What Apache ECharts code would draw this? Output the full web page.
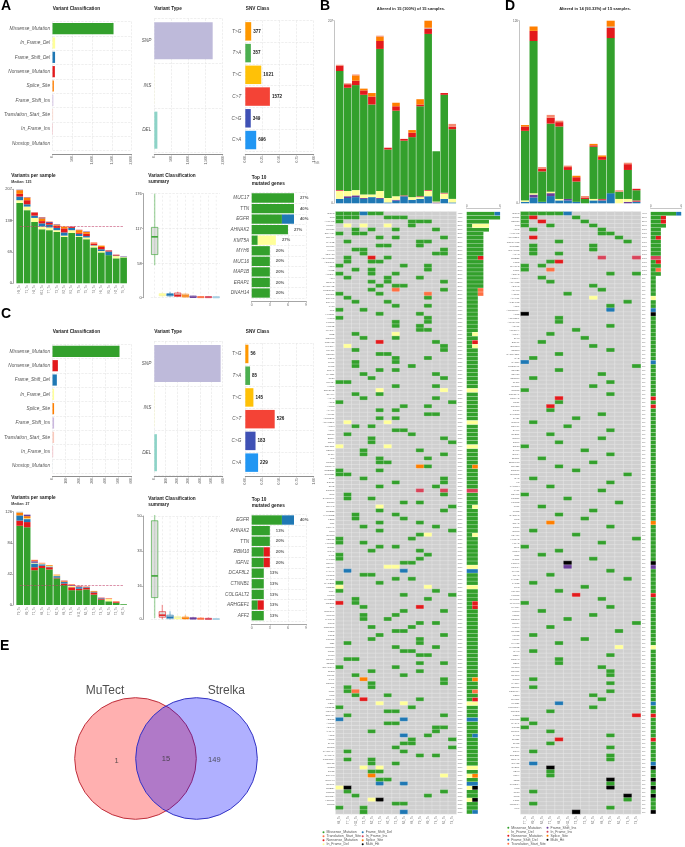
<!DOCTYPE html>
<html><head><meta charset="utf-8">
<style>html,body{margin:0;padding:0;background:#fff}#c{width:685px;height:847px;filter:blur(0.3px)}</style>
<script src="https://cdn.jsdelivr.net/npm/echarts@6/dist/echarts.min.js"></script>
</head><body><div id="c"></div>
<script>
// ---------- DATA ----------
const typeNames={g:'Missense_Mutation',y:'In_Frame_Del',b:'Frame_Shift_Del',r:'Nonsense_Mutation',o:'Splice_Site',p:'Frame_Shift_Ins',t:'Translation_Start_Site',c:'In_Frame_Ins',n:'Nonstop_Mutation',k:'Multi_Hit'};
// Panel A
const aClassNames=['Missense_Mutation','In_Frame_Del','Frame_Shift_Del','Nonsense_Mutation','Splice_Site','Frame_Shift_Ins','Translation_Start_Site','In_Frame_Ins','Nonstop_Mutation'];
const aClassKeys=['g','y','b','r','o','p','t','c','n'];
const aClassValues=[1545,67,65,60,35,20,15,12,1];
const aTypeNames=['SNP','INS','DEL'];
const aTypeValues=[1707,4,90];
const snvNames=['T>G','T>A','T>C','C>T','C>G','C>A'];
const aSnvValues=[377,357,1021,1572,349,696];
const aBoxStats=[[55,73,103,119,176],[2,3,5,7,9],[2,3,5,7,10],[1,2,4,8,10],[1,1,3,6,7],[0,0.5,1,3,3.5],[0,0,1,2,2],[0,0,1,2,2.5],[0,0,0.5,2,3]];
const aTopGenes=['MUC17','TTN','EGFR','AHNAK2','KMT5A','MYH6','MUC16','MAP1B','ERAP1','DNAH14'];
const aTopGreen=[7,7,5,6,1,3,3,3,3,3];
const aTopOther=[0,0,2,0,3,0,0,0,0,0];
const aTopOtherKey=['g','g','b','g','y','g','g','g','g','g'];
const aTopLabels=['27%','40%','40%','27%','27%','20%','20%','20%','20%','20%'];
// Panel C
const cClassNames=['Missense_Mutation','Nonsense_Mutation','Frame_Shift_Del','In_Frame_Del','Splice_Site','Frame_Shift_Ins','Translation_Start_Site','In_Frame_Ins','Nonstop_Mutation'];
const cClassKeys=['g','r','b','y','o','p','t','c','n'];
const cClassValues=[509,41,33,12,12,12,12,5,1];
const cTypeValues=[582,2,23];
const cSnvValues=[56,85,145,526,183,229];
const cBoxStats=[[0.6,10.5,21,47.7,50.5],[0,1,2,3.7,7],[0,0.3,1,2,3.9],[0,0.2,0.5,1.3,2],[0,0.2,0.5,1.1,2.2],[0,0.1,0.4,0.8,1.2],[0,0,0.3,0.6,1],[0,0,0.2,0.5,1],[0,0,0.1,0.3,0.5]];
const cTopGenes=['EGFR','AHNAK2','TTN','RBM10','IGFN1','DCAF8L2','CTNNB1','COLGALT2','ARHGEF1','AFF2'];
const cTopGreen=[5,3,3,2,2,2,2,2,1,2];
const cTopOther=[2,0,0,1,1,0,0,0,1,0];
const cTopOtherKey=['b','g','g','r','r','g','g','g','r','g'];
const cTopLabels=['40%','13%','20%','20%','20%','13%','13%','13%','13%','13%'];
// Panel B per-sample variant counts
const bSamples=['H4_Tu','T7_Tu','H11_Tu','T3_Tu','R2_Tu','T1_Tu','H2_Tu','T5_Tu','R5_Tu','H6_Tu','T9_Tu','H9_Tu','T6_Tu','R1_Tu','T4_Tu'];
const bFrameDel=[5,6,7,5,7,5,1,3,8,4,5,8,0,5,1];
const bFrameIns=[0,2,2,1,0,1,0,1,0,0,0,0,1,0,0];
const bInDel=[9,6,6,4,3,8,5,4,0,3,2,6,1,6,4];
const bInIns=[1,0,0,0,0,0,0,0,1,0,1,1,0,1,0];
const bMissense=[135,117,119,113,102,161,55,97,62,68,102,177,57,111,79];
const bNonsense=[6,4,5,5,9,9,2,5,2,5,2,6,0,2,3];
const bNonstop=[0,0,0,0,0,0,0,0,0,0,0,1,0,0,0];
const bSplice=[0,0,6,2,4,5,0,4,0,3,6,8,0,0,0];
const bTrans=[1,1,1,0,0,1,0,0,0,0,0,0,0,0,3];
// Panel D per-sample variant counts
const dSamples=['T7_Tu','H9_Tu','R5_Tu','T1_Tu','H4_Tu','H11_Tu','T3_Tu','T5_Tu','R2_Tu','H6_Tu','T9_Tu','R1_Tu','T6_Tu','T4_Tu'];
const dFrameDel=[1,4,1,5,2,2,1,0,2,2,7,0,0,1];
const dFrameIns=[0,2,0,2,0,1,0,0,0,0,0,0,1,0];
const dInDel=[1,1,0,1,1,0,0,0,1,0,0,3,2,0];
const dInIns=[0,0,0,0,0,0,0,0,0,1,0,0,0,1];
const dMissense=[48,105,21,47,50,20,14,3,36,27,107,5,20,7];
const dNonsense=[3,7,2,4,3,2,3,1,1,2,7,0,4,1];
const dNonstop=[0,0,0,0,0,0,0,0,0,0,1,0,0,0];
const dSplice=[1,3,0,0,0,0,1,0,1,1,4,0,0,0];
const dTrans=[0,0,1,2,1,1,0,1,0,0,0,1,1,0];
const cExtraSample='H2_Tu';
const cExtraMissense=1;
// Oncoplot genes
const bGenes='EGFR TTN AHNAK2 KMT5A MUC17 DNAH14 ERAP1 MAP1B MUC16 MYH6 ABCA13 ADAMTS12 ADGRV1 ANK3 APOB ARID1A ATM BRCA2 CACNA1E CCDC168 CSMD1 DNAH5 DNAH9 FAT3 FLG HMCN1 HYDIN KMT2C LRP1B MYO7A NEB OBSCN PCDH15 PIK3CA PKHD1 RBM10 RELN RYR1 RYR2 SPTA1 SYNE1 TP53 USH2A XIRP2 ZNF804B ZFHX4 ACAN AFF2 AGRN AKAP9 ALMS1 ANKRD11 ARHGEF1 ASPM ATRX BIRC6 BRD4 CDH1 CELSR1 CENPF CHD4 CIC CNOT1 COL6A3 CREBBP CTNNB1 DCC DIDO1 DMD DOCK2 DST DYNC1H1 EP300 EPHA2 ERBB2 FAM135B FBN2 FN1 FOXA1 GLI3 GPR98 HERC2 HUWE1 IGFN1 ITGA8 JAK1 KALRN KDM6A KEAP1 LAMA1 LRRK2 MACF1 MAGEC1 MED12 MGA MTOR MYCBP2 NCOR1 NF1 NOTCH1 NUP98 PAPPA2 PCLO PDE4DIP PLEC POLE PTPRD RB1 RNF213 ROS1 RYR3 SCN1A SETD2 SMARCA4 SPEN STK11 TAF1 TENM1 TG TLN1 TNC TRRAP UBR4 VPS13B WDFY3 ZNF469 ABCC2 ACTN2 ADCY8 AHNAK ANK2 ARID2 BAP1 BCOR CACNA1A CAMTA1 CCDC88A CDK12 CUBN DLG2 DNAH3 DSCAM EPPK1 ERBB4 FREM2 GRIN2A HECW1 INSRR'.split(' ');
const dGenes='EGFR IGFN1 RBM10 TTN AFF2 AHNAK2 ARHGEF1 COLGALT2 CTNNB1 DCAF8L2 ACAN ERBB2 LRP2 PLXNA2 PKD1 ABCA2 ACTL6A ADAM12 ADCY2 AGAP3 AHDC1 AKAP11 ALDH1L2 ANK1 ANKRD30A APC2 ARFGEF1 ARHGAP5 ASXL1 ATP13A4 ATP7A BAI3 BCL9L BRINP3 C2CD3 CACNA2D1 CAD CAPN9 CCDC141 CDC27 CDH10 CEP290 CHD7 CLCN6 CNTN5 COL11A1 COL4A2 CPS1 CSMD3 CTCF CYP2C8 DAB1 DCLK1 DDX3X DHX9 DLEC1 DNM3 DPP6 DSG3 DYSF EIF3A ELTD1 EPB41L3 EPHB1 ERCC6 ESRRG EYS F5 FAM83H FAT1 FBXW7 FCGBP FGFR2 FLT1 FMN2 GABRA5 GLI2 GNAS GPC6 GRM8 HDAC9 HMGA2 HRAS IDH1 IGSF3 IRS1 ITPR1 KCNH7 KIF13A KLHL1 KRAS LAMB4 LATS2 LIFR LPHN3 LRFN5 MAP3K1 MAP4K3 MAST4 MCM3 MDN1 MEGF8 MLLT4 MSH6 MTUS2 MUC2 MUC4 MYH15 MYO18B NAV3 NBEA NCOA3 NEK1 NLRP3 NRXN1 NTRK3 OTOF PARP4 PBRM1 PDGFRA PER3 PIK3R1 PLCB1 PPP2R1A PRKDC PTEN PTPN13 RASA1 RIMS2 RUNX1 SACS SF3B1 SLIT2 SMAD4 SOX9 SPTBN1 SRCAP STAG2 SVEP1 TBX3 TCF4 TET2 THSD7A TNR TP63 TRIO TSC1 UNC13A VWF'.split(' ');
const bCells=['g0 g1 g2 b3 g4 g5','g0 g1 g2 g6 g7 g8','g0 g9 g10 g11','y1 y3 y6 g9','g2 g4 g7 g12','g0 g2 g3','g5 g7 g13','g1 g10 g11','g5 g6 g10','g2 g3 g13','g3 g12 g13','g1 r4 g6','g1 g4 g5','g0 g8 g11','g2 g4 g11','g0 g4 g7','g1 g6 g10','g4 g6 g13','g5 g7 g8','g4 t7 g13','g0 g5 t11','g1 g11','g2 g6','g7 g11','g0 g3','g5 g10','g0 g11','g7 g11','g7 g10','g10 g11','g2 y7','g3 g7','r5 g12','y1 g13','g2 g13','g5 g6','g7 g11','g2 g7','g2 g9','g5 g7','g3 g12','g4 g13','g0 g1','g7 g12','y5 y13','g2 g5','g3 g12','g0 g14','g8 g11','g5 g7','g11 g12',
'g5 g7','y1 y6','g2 g4','g7 g8','g1 g9','g4 g13','g4 g14','y0 y6','g3 g10','g3 g13','g5 g11','g5 g6','o10 g11','g0 g5','g0 g1','g3 g13','g7 g13','g5 g12','c10 c13','g1 g13','g1 g4','g8 g10','y5 g14','g5 g13','g2 g7','g2 g8','g5 g10','g3 g12','g5 g14','g10 y11','g0 g9','g0 g3','g5 g7','g4 g10','g0 g11','g0 g10','g8 g9','y6 y7','b1 b8','g3 g4','g7 g9','g0 g5','y0 y11','g0 g12','g8 g14','g2 g11','r0 g2','g3 r10','g8 g13','g3 g7','g3 g6','g10 g12','g4 g9','g7 g8','g5 g13','g4 g10',
'g1 g10','g7 g12','g8 g9','g10 g11','g1 g2','g10 g13','g0 g7','g4 g10','g2 g8','o3 g13','g4 g13','g1 g4','g1 t2','g2 g6','r3 g10','y5 y8','g0 g9','g6 g7','g1 g13','b0 b8','g6 g7','g12 g13','g4 g12','b8 g11','g9 g14','g8 g9','g7 g14','g1 g8','g10 g12','g1 g4','g4 g7','y3 y5','g4 g5','o4 y13','g5 g6','b5 b8','y0 k1','g1 g13','g2 g11','y4 k5','g7 g8','g0 g3','g3 b8'];
const dCells=['g0 g1 g2 g3 g4 b5','g0 r1 g6','g0 r2 g7','g0 g3 g8','g1 g9','g9 g10','r1 g11','g4 g12','g1 g8','g1 g8','g1 g4','c9 c13','g3 r4','g0 g2','g0 t3','g10 g13','g2','g3','g8','g9','g5','y8','g12','g10','b10','k0','g4','g4','g10','g6','g3','g7','g2','g8','g10','g4','g1','b0','g13','g4','g9','g1','g10','g8','g0','g10','r4','g4','r3','g3','g9','g6',
'g1','g5','g10','g3','g9','g4','g0','g7','g10','g2','g8','g4','g6','g12','g1','g10','g3','g9','g0','g5','g11','g2','g8','g4','g7','o3','g10','g1','g6','g13','g9','g0','g4','g2','g8','k5','p5','g10','g3','g12','g1','g7','g4','r6','g9','g0','g10','g2','g8','g5','g13','g3','g11','g1','g7',
'g4','y11','g1','g10','g4','g4','g9','g10','g10','g1','g10','g1','g10','g8','g9','b4','g8','g3','r13','g0','g1','g0','g3','g10','r4','g3','g10','g1','g10','g10','b1','k3','g3','g3','k10','g10','k10','g1','k12','g12','g1','g10','k6'];
const vennNames=['MuTect','Strelka'];
const vennCounts=[1,15,149];
const bLegendKeys=['g','t','r','y','b','c','o','k'];
const dLegendKeys=['g','y','r','b','t','p','c','o','k'];

// ---------- STYLE / LAYOUT ----------
const FONT='"Liberation Sans",Arial,sans-serif';
const COLOR={g:'#33a02c',y:'#ffff99',b:'#1f78b4',r:'#e31a1c',o:'#ff7f00',p:'#6a3d9a',t:'#ff7043',c:'#d9445a',n:'#a6cee3',k:'#000000'};
const PALE={p:'#cbb8de',t:'#f9c9bc',c:'#efb4bc',n:'#d6e6f0',y:'#ffff99'};
const SNV=['#ff9800','#4caf50','#ffc107','#f44336','#3f51b5','#2196f3'];
const TYPEC=['#bebada','#ffffb3','#8dd3c7'];
const AX='#8f8f8f', DASH='#e4e4e4', TXT='#555';
const grids=[],xAxes=[],yAxes=[],series=[],graphics=[];
function G(l,t,w,h){grids.push({left:l,top:t,width:w,height:h});return grids.length-1;}
function X(o){xAxes.push(o);return xAxes.length-1;}
function Y(o){yAxes.push(o);return yAxes.length-1;}
function T(x,y,text,font,fill,align){graphics.push({type:'text',silent:true,style:{x,y,text,font:font+' '+FONT,fill:fill||'#222',textAlign:align||'left',textVerticalAlign:'middle'}});}
const dashLine={show:true,lineStyle:{color:DASH,type:'dashed',width:.6}};
function valAxisX(g,max,interval,off,labels){return X({type:'value',gridIndex:g,min:0,max,interval,position:'bottom',offset:off||0,
  axisLine:{show:true,lineStyle:{color:AX,width:1}},axisTick:{show:true,length:1.5,lineStyle:{color:AX,width:.6}},
  axisLabel:{rotate:90,fontSize:3.4,color:'#666',margin:2,fontFamily:FONT,formatter:labels||undefined},splitLine:dashLine});}
function catAxisY(g,data,margin){return Y({type:'category',gridIndex:g,data,inverse:true,
  axisLine:{show:false},axisTick:{show:false},splitLine:dashLine,
  axisLabel:{interval:0,fontStyle:'italic',fontSize:4.7,color:TXT,margin:margin||2.5,fontFamily:FONT}});}

function topBars(cfg){ // class, type, snv bars
  let g=G(52.5,cfg.vcTop,79,cfg.vcH), x=valAxisX(g,cfg.vcMax,cfg.vcInt,cfg.vcOff), y=catAxisY(g,cfg.names);
  series.push({type:'bar',xAxisIndex:x,yAxisIndex:y,barCategoryGap:'22%',silent:true,
    data:cfg.values.map((v,i)=>({value:v,itemStyle:{color:PALE[cfg.keys[i]]||COLOR[cfg.keys[i]]}}))});
  g=G(154.3,cfg.vtTop,68.4,cfg.vtH); x=valAxisX(g,cfg.vcMax,cfg.vcInt,cfg.vtOff); y=catAxisY(g,aTypeNames,3);
  series.push({type:'bar',xAxisIndex:x,yAxisIndex:y,barCategoryGap:'17%',silent:true,
    data:cfg.typeValues.map((v,i)=>({value:v,itemStyle:{color:TYPEC[i]}}))});
  g=G(245.3,cfg.snvTop,68.4,cfg.snvH); x=valAxisX(g,1,.25,cfg.snvOff,v=>v.toFixed(2)); y=catAxisY(g,snvNames,4);
  const tot=cfg.snv.reduce((a,b)=>a+b,0);
  series.push({type:'bar',xAxisIndex:x,yAxisIndex:y,barCategoryGap:'15%',silent:true,
    label:{show:true,position:'right',distance:2,fontSize:4.6,fontWeight:'bold',color:'#222',fontFamily:FONT,formatter:p=>cfg.snv[p.dataIndex]},
    data:cfg.snv.map((v,i)=>({value:v/tot,itemStyle:{color:SNV[i]}}))});
  T(52.7,cfg.titleY,'Variant Classification','bold 4.7px');
  T(154.3,cfg.titleY,'Variant Type','bold 4.7px');
  T(245.8,cfg.titleY,'SNV Class','bold 4.7px');
}
function perSample(cfg){
  const g=G(16,cfg.top,111.3,cfg.h);
  const x=X({type:'category',gridIndex:g,data:cfg.samples,axisLine:{show:false},axisTick:{show:false},
    axisLabel:{interval:0,rotate:90,fontSize:2.8,color:'#777',margin:2,fontFamily:FONT}});
  const y=Y({type:'value',gridIndex:g,min:0,max:cfg.max,interval:cfg.max/3,offset:3,splitLine:{show:false},
    axisLine:{show:true,lineStyle:{color:AX,width:.8}},axisTick:{show:true,length:1.5,lineStyle:{color:AX,width:.6}},
    axisLabel:{fontSize:4,color:'#444',margin:1,fontFamily:FONT}});
  cfg.keys.forEach((k,i)=>{
    const s={type:'bar',name:typeNames[k],stack:'s'+g,xAxisIndex:x,yAxisIndex:y,barCategoryGap:'10%',silent:true,
      itemStyle:{color:COLOR[k]},data:cfg.data[k]};
    if(i===0)s.markLine={silent:true,symbol:'none',label:{show:false},lineStyle:{color:'#c2476f',type:'dashed',width:.6},
      data:[[{coord:[0,cfg.median]},{coord:[14,cfg.median]}]]};
    series.push(s);
  });
  T(11.3,cfg.titleY,'Variants per sample','bold 4.7px');
  T(11.3,cfg.titleY+6.2,'Median: '+cfg.median,'bold 3.5px','#333');
}
function summary(cfg){
  const g=G(150.8,cfg.top,69.2,cfg.h);
  const x=X({type:'category',gridIndex:g,data:cfg.names,axisLine:{show:false},axisTick:{show:false},axisLabel:{show:false}});
  const y=Y({type:'value',gridIndex:g,min:0,max:cfg.ticks[3],offset:7.5,
    splitLine:dashLine,
    axisLine:{show:true,lineStyle:{color:AX,width:.8}},
    axisTick:{show:true,length:1.5,lineStyle:{color:AX,width:.6},customValues:cfg.ticks},
    axisLabel:{fontSize:4,color:'#444',margin:1.5,fontFamily:FONT,customValues:cfg.ticks}});
  series.push({type:'custom',xAxisIndex:x,yAxisIndex:y,silent:true,clip:false,
    encode:{x:0,y:[1,2,3,4,5]},
    data:cfg.stats.map((s,i)=>[i,...s]),
    renderItem(params,api){
      const i=api.value(0),c=COLOR[cfg.keys[i]],w=api.size([1,0])[0]*.84;
      const P=v=>api.coord([i,v]);const cx=P(0)[0];
      const ln=(a,b,col,wd,op,dash)=>({type:'line',shape:{x1:cx+(a.dx||0),y1:a.y,x2:cx+(b.dx||0),y2:b.y},style:{stroke:col,lineWidth:wd,opacity:op,lineDash:dash}});
      const yo=P(0)[1],yt=P(cfg.ticks[3])[1];
      const [mn,q1,md,q3,mx]=[1,2,3,4,5].map(k=>P(api.value(k))[1]);
      return {type:'group',children:[
        ln({y:yo},{y:yt},DASH,.6,1,[2,2]),
        ln({y:mn},{y:mx},c,1.4,.4),
        {type:'rect',shape:{x:cx-w/2,y:q3,width:w,height:q1-q3},style:{fill:'#d4d4d4',stroke:c,lineWidth:.8,opacity:.75}},
        ln({y:md,dx:-w/2},{y:md,dx:w/2},c,1.5,1)
      ]};
    }});
  T(148.3,cfg.titleY,'Variant Classification','bold 4.7px');
  T(148.3,cfg.titleY+6,'summary','bold 4.7px');
}
function top10(cfg){
  const g=G(251.7,cfg.top,54.4,cfg.h);
  const x=X({type:'value',gridIndex:g,min:0,max:9,interval:3,position:'bottom',offset:cfg.off,
    axisLine:{show:true,lineStyle:{color:AX,width:.8}},axisTick:{show:true,length:1.5,lineStyle:{color:AX,width:.6}},
    axisLabel:{fontSize:3.6,color:'#666',margin:2,fontFamily:FONT},splitLine:dashLine});
  const y=catAxisY(g,cfg.genes,2.5);
  series.push({type:'bar',stack:'t'+g,xAxisIndex:x,yAxisIndex:y,barCategoryGap:'12%',silent:true,itemStyle:{color:COLOR.g},data:cfg.green});
  series.push({type:'bar',stack:'t'+g,xAxisIndex:x,yAxisIndex:y,silent:true,
    data:cfg.other.map((v,i)=>({value:v,itemStyle:{color:COLOR[cfg.otherKey[i]]}}))});
  series.push({type:'scatter',xAxisIndex:x,yAxisIndex:y,symbolSize:0,silent:true,
    label:{show:true,position:'right',distance:6,fontSize:4.2,fontWeight:'bold',color:'#333',fontFamily:FONT,formatter:p=>cfg.labels[p.dataIndex]},
    data:cfg.green.map((v,i)=>[v+cfg.other[i],cfg.genes[i]])});
  T(251.7,cfg.titleY,'Top 10','bold 4.7px');
  T(251.7,cfg.titleY+6,'mutated genes','bold 4.7px');
}
function parseCells(rows){return rows.map(r=>r.split(' ').map(s=>({k:s[0],c:+s.slice(1)})));}
function onco(cfg){
  const rows=parseCells(cfg.cells),n=cfg.samples.length,N=15;
  const genes=rows.map((_,i)=>cfg.genes[i]||'');
  let g=G(cfg.left,20.7,cfg.width,182.6);
  let x=X({type:'category',gridIndex:g,data:cfg.samples,axisLine:{show:false},axisTick:{show:false},axisLabel:{show:false}});
  let y=Y({type:'value',gridIndex:g,min:0,max:cfg.max,interval:cfg.max,offset:1.7,splitLine:{show:false},
    axisLine:{show:true,lineStyle:{color:'#c4c4c4',width:1}},axisTick:{show:true,length:1.2,lineStyle:{color:'#aaa',width:.5}},
    axisLabel:{fontSize:3,color:'#555',margin:1,fontFamily:FONT}});
  ['b','p','y','c','g','r','n','o','t'].forEach(k=>series.push({type:'bar',name:typeNames[k],stack:'o'+g,xAxisIndex:x,yAxisIndex:y,barCategoryGap:'6%',silent:true,
    itemStyle:{color:k==='n'?'#bfa0a0':k==='t'?'#f58a70':COLOR[k]},data:cfg.data[k]}));
  const top=211.7,h=150*4.015;
  g=G(cfg.left,top,cfg.width,h);
  x=X({type:'category',gridIndex:g,data:cfg.samples,position:'bottom',axisLine:{show:false},axisTick:{show:false},splitLine:{show:false},
    axisLabel:{interval:0,rotate:90,fontSize:2.8,color:'#777',margin:2,fontFamily:FONT}});
  y=Y({type:'category',gridIndex:g,data:genes,inverse:true,position:'left',axisLine:{show:false},axisTick:{show:false},splitLine:{show:false},
    axisLabel:{interval:0,fontSize:2.5,color:'#666',margin:1.2,fontFamily:FONT}});
  const pct=rows.map(r=>Math.round(new Set(r.map(c=>c.c)).size/N*100)+'%');
  Y({type:'category',gridIndex:g,data:pct,inverse:true,position:'right',axisLine:{show:false},axisTick:{show:false},splitLine:{show:false},
    axisLabel:{interval:0,fontSize:2.5,color:'#666',margin:1.2,fontFamily:FONT}});
  const cellData=[];
  rows.forEach((r,ri)=>{
    const m={};r.forEach(c=>m[c.c]=c.k);
    for(let c=0;c<n;c++)cellData.push({value:[c,ri,m[c]?1:0],itemStyle:{color:m[c]?COLOR[m[c]]:'#cfcfcf'}});
  });
  series.push({type:'heatmap',xAxisIndex:x,yAxisIndex:y,silent:true,progressive:0,data:cellData,itemStyle:{borderColor:'#f4f4f4',borderWidth:.3}});
  g=G(cfg.side,top,33.4,h);
  x=X({type:'value',gridIndex:g,min:0,max:6,interval:6,position:'top',offset:3.4,splitLine:{show:false},
    axisLine:{show:true,lineStyle:{color:'#b8b8b8',width:.8}},axisTick:{show:true,length:1,lineStyle:{color:'#aaa',width:.5}},
    axisLabel:{fontSize:2.8,color:'#555',margin:1,fontFamily:FONT}});
  y=Y({type:'category',gridIndex:g,data:genes,inverse:true,axisLine:{show:false},axisTick:{show:false},axisLabel:{show:false},splitLine:{show:false}});
  ['g','y','p','b','t','o','r','c','k'].forEach(k=>series.push({type:'bar',stack:'b'+g,xAxisIndex:x,yAxisIndex:y,barCategoryGap:'8%',silent:true,
    itemStyle:{color:COLOR[k]},data:rows.map(r=>r.filter(c=>c.k===k).length)}));
  T(cfg.titleX,8.5,cfg.title,'bold 4.1px','#222','center');
  cfg.legend.forEach((k,i)=>{
    const col=i<cfg.legendSplit?0:1,row=col?i-cfg.legendSplit:i;
    const lx=cfg.legendX[col],ly=cfg.legendY+row*4;
    graphics.push({type:'circle',silent:true,shape:{cx:lx,cy:ly,r:1},style:{fill:COLOR[k]}});
    T(lx+3,ly,typeNames[k],'3.5px','#555');
  });
}
function stacked(arrs,order,keys){const o={};keys.forEach(k=>o[k]=order.map(i=>arrs[k][i]));return o;}

// ---------- BUILD ----------
const bVar={b:bFrameDel,p:bFrameIns,y:bInDel,c:bInIns,g:bMissense,r:bNonsense,n:bNonstop,o:bSplice,t:bTrans};
const dVar={b:dFrameDel,p:dFrameIns,y:dInDel,c:dInIns,g:dMissense,r:dNonsense,n:dNonstop,o:dSplice,t:dTrans};
const allKeys=Object.keys(bVar);
const totals=(v,n)=>Array.from({length:n},(_,i)=>allKeys.reduce((a,k)=>a+v[k][i],0));
const bTot=totals(bVar,15), bOrder=bTot.map((_,i)=>i).sort((a,b)=>bTot[b]-bTot[a]);
const cVar={};allKeys.forEach(k=>cVar[k]=dVar[k].concat(k==='g'?[cExtraMissense]:[0]));
const cTot=totals(cVar,15), cOrder=cTot.map((_,i)=>i).sort((a,b)=>cTot[b]-cTot[a]);
const cSamplesAll=dSamples.concat([cExtraSample]);

topBars({titleY:9,names:aClassNames,keys:aClassKeys,values:aClassValues,vcMax:2000,vcInt:500,vcTop:21.5,vcH:129,vcOff:3.5,
  typeValues:aTypeValues,vtTop:18.5,vtH:134,vtOff:1.5,snv:aSnvValues,snvTop:20.5,snvH:130.4,snvOff:3.1});
topBars({titleY:331.3,names:cClassNames,keys:cClassKeys,values:cClassValues,vcMax:600,vcInt:100,vcTop:344.2,vcH:129,vcOff:2.8,
  typeValues:cTypeValues,vtTop:341.2,vtH:133.8,vtOff:1,snv:cSnvValues,snvTop:343.1,snvH:130.4,snvOff:2.5});
perSample({top:189.3,h:94,max:207,median:125,titleY:176,samples:bOrder.map(i=>bSamples[i]),keys:aClassKeys,data:stacked(bVar,bOrder,aClassKeys)});
perSample({top:511.7,h:93.3,max:126,median:27,titleY:498,samples:cOrder.map(i=>cSamplesAll[i]),keys:cClassKeys,data:stacked(cVar,cOrder,cClassKeys)});
summary({top:193.7,h:104,ticks:[0,58,117,176],titleY:176,names:aClassNames,keys:aClassKeys,stats:aBoxStats});
summary({top:516,h:103.3,ticks:[0,16,33,50],titleY:498.3,names:cClassNames,keys:cClassKeys,stats:cBoxStats});
top10({top:192.7,h:105.6,off:3,titleY:178,genes:aTopGenes,green:aTopGreen,other:aTopOther,otherKey:aTopOtherKey,labels:aTopLabels});
top10({top:514.7,h:106.3,off:3,titleY:500,genes:cTopGenes,green:cTopGreen,other:cTopOther,otherKey:cTopOtherKey,labels:cTopLabels});
onco({left:335.7,width:120.6,side:466.7,max:207,samples:bSamples,data:bVar,cells:bCells,genes:bGenes,title:'Altered in 15 (100%) of 15 samples.',titleX:411,
  legend:bLegendKeys,legendSplit:4,legendX:[323.5,362.7],legendY:832.3});
onco({left:520.7,width:120,side:650.7,max:126,samples:dSamples,data:dVar,cells:dCells,genes:dGenes,title:'Altered in 14 (93.33%) of 15 samples.',titleX:595,
  legend:dLegendKeys,legendSplit:5,legendX:[508.3,547.5],legendY:827.7});

// Venn (layout positions live here, counts and names come from the data arrays)
const vg=G(0,630,320,200);
const vx=X({type:'value',gridIndex:vg,min:0,max:320,show:false});
const vy=Y({type:'value',gridIndex:vg,min:0,max:200,inverse:true,show:false});
const vennPos=[[135.5,128.5],[196.5,128.5]], vennR=121.6;
const vennFill=['rgba(255,0,0,.31)','rgba(0,0,255,.31)'],vennEdge=['#bf2f3c','#3333c4'];
vennNames.forEach((nm,i)=>series.push({type:'scatter',xAxisIndex:vx,yAxisIndex:vy,silent:true,symbolSize:vennR,
  itemStyle:{color:vennFill[i],opacity:1,borderColor:vennEdge[i],borderWidth:1},data:[vennPos[i]]}));
const vennNamePos=[[105,61],[226.3,61]], vennNumPos=[[116.7,130.7],[166,129.3],[214.3,130]];
series.push({type:'scatter',xAxisIndex:vx,yAxisIndex:vy,silent:true,symbolSize:0,
  label:{show:true,position:'inside',fontSize:12,color:'#222',fontFamily:FONT,formatter:p=>vennNames[p.dataIndex]},data:vennNamePos});
series.push({type:'scatter',xAxisIndex:vx,yAxisIndex:vy,silent:true,symbolSize:0,
  label:{show:true,position:'inside',fontSize:7.5,color:'#333',fontFamily:FONT,formatter:p=>String(vennCounts[p.dataIndex])},data:vennNumPos});

[['A',1,6.5],['B',320,6],['C',1,314.5],['D',505,6],['E',0,646.5]].forEach(l=>T(l[1],l[2],l[0],'bold 14px','#000'));
T(316.5,163,'TMB','2.8px','#888','center');

const chart=echarts.init(document.getElementById('c'),null,{renderer:'canvas'});
chart.setOption({animation:false,backgroundColor:'#fff',textStyle:{fontFamily:FONT},
  grid:grids,xAxis:xAxes,yAxis:yAxes,series,graphic:graphics});
</script></body></html>
